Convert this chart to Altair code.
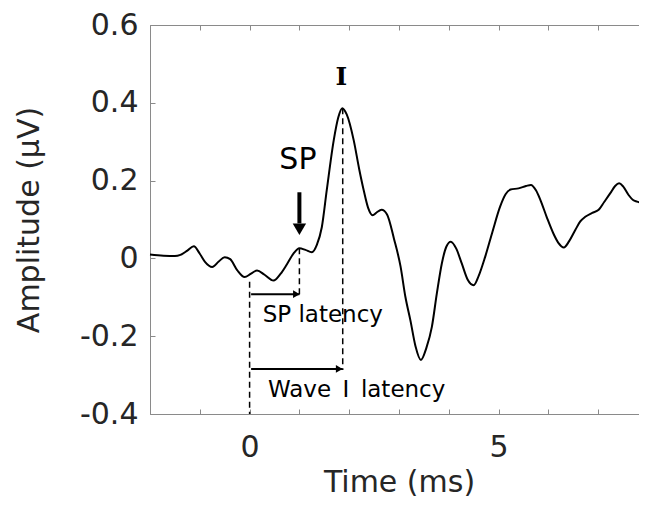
import altair as alt
import pandas as pd

# ---- waveform ----
time_ms = [-2.0, -1.73, -1.5, -1.39, -1.25, -1.12, -1.0, -0.9, -0.75, -0.62, -0.5, -0.39,
           -0.25, -0.1, 0.02, 0.15, 0.3, 0.48, 0.62, 0.75, 0.88, 1.0, 1.12, 1.25, 1.35,
           1.45, 1.55, 1.69, 1.78, 1.86, 1.95, 2.09, 2.2, 2.29, 2.38, 2.47, 2.55, 2.65,
           2.76, 2.9, 3.03, 3.13, 3.23, 3.33, 3.44, 3.55, 3.66, 3.76, 3.86, 3.95, 4.04,
           4.15, 4.26, 4.38, 4.5, 4.6, 4.73, 4.88, 5.03, 5.14, 5.24, 5.4, 5.55, 5.65,
           5.75, 5.84, 5.97, 6.1, 6.2, 6.31, 6.42, 6.54, 6.64, 6.74, 6.88, 7.01, 7.12,
           7.24, 7.34, 7.42, 7.5, 7.61, 7.7, 7.78, 7.9, 8.0]
amplitude = [0.010, 0.007, 0.006, 0.009, 0.020, 0.031, 0.012, -0.008, -0.022, -0.008, 0.003, -0.002,
             -0.030, -0.048, -0.040, -0.031, -0.042, -0.057, -0.040, -0.015, 0.012, 0.026, 0.022, 0.016, 0.035,
             0.080, 0.176, 0.304, 0.362, 0.386, 0.370, 0.304, 0.230, 0.176, 0.130, 0.111, 0.118, 0.125,
             0.113, 0.050, -0.020, -0.100, -0.160, -0.225, -0.261, -0.230, -0.176, -0.090, -0.013, 0.030, 0.043,
             0.025, -0.013, -0.055, -0.069, -0.045, 0.004, 0.070, 0.133, 0.165, 0.177, 0.180, 0.186, 0.189,
             0.175, 0.150, 0.105, 0.064, 0.040, 0.028, 0.045, 0.073, 0.095, 0.107, 0.117, 0.125, 0.145,
             0.167, 0.186, 0.193, 0.185, 0.163, 0.150, 0.146, 0.141, 0.136]

# ---- axes ----
x_domain = [-2, 8]
y_domain = [-0.4, 0.6]
x_ticks = [-2, -1, 0, 1, 2, 3, 4, 5, 6, 7, 8]
x_label_values = [0, 5]
y_ticks = [-0.4, -0.2, 0, 0.2, 0.4, 0.6]

# ---- annotations ----
dash_x = [0.0, 1.0, 1.87]
dash_top = [-0.06, 0.026, 0.386]
dash_bottom = [-0.4, -0.094, -0.287]

arrow_start = [0.03, 0.03]
arrow_end = [1.0, 1.86]
arrow_y = [-0.092, -0.284]

latency_text = ["SP latency", "Wave\u2002Ⅰ\u2002latency"]
latency_x = [1.47, 2.15]
latency_y = [-0.146, -0.339]

sp_text = ["SP"]
sp_x = [0.97]
sp_y = [0.253]

peak_text = ["Ⅰ"]
peak_x = [1.84]
peak_y = [0.467]

sp_arrow_x = [1.0]
sp_arrow_top = [0.17]
sp_arrow_bottom = [0.09]
sp_arrow_head_y = [0.075]

# full plot span (x from -2 to 8) runs past the right edge of the window, as in the reference
SPAN_W, W, H = 498, 489, 389
FONT = "DejaVu Sans"
TXT = "#262626"
GRAY = "#8a8a8a"

wave = pd.DataFrame({"t": time_ms, "a": amplitude})
dashes = pd.DataFrame({"t": dash_x, "top": dash_top, "bot": dash_bottom})
arrows = pd.DataFrame({"t0": arrow_start, "t1": arrow_end, "a": arrow_y})
lat_df = pd.DataFrame({"t": latency_x, "a": latency_y, "s": latency_text})
sp_df = pd.DataFrame({"t": sp_x, "a": sp_y, "s": sp_text})
peak_df = pd.DataFrame({"t": peak_x, "a": peak_y, "s": peak_text})
sp_arrow = pd.DataFrame({"t": sp_arrow_x, "top": sp_arrow_top, "bot": sp_arrow_bottom, "head": sp_arrow_head_y})

xs = alt.Scale(domain=x_domain, nice=False, zero=False, range=[0, SPAN_W])
ys = alt.Scale(domain=y_domain, nice=False, zero=False)

main_x = alt.Axis(values=x_label_values, title="Time (ms)", ticks=False, tickSize=0, domain=True,
                  domainColor=GRAY, domainWidth=1, grid=False,
                  labelFont=FONT, labelFontSize=30, labelColor=TXT, labelPadding=18,
                  titleFont=FONT, titleFontSize=30, titleColor=TXT, titleFontWeight="normal", titlePadding=5)
main_y = alt.Axis(values=y_ticks, title="Amplitude (μV)", ticks=False, tickSize=0, domain=True,
                  domainColor=GRAY, domainWidth=1, grid=False,
                  labelFont=FONT, labelFontSize=30, labelColor=TXT, labelPadding=12,
                  labelExpr="datum.value == 0 ? '0' : replace(format(datum.value, '.1f'), '−', '-')",
                  titleFont=FONT, titleFontSize=30, titleColor=TXT, titleFontWeight="normal", titlePadding=35)


def tick_axis(orient, offset, values, domain=False):
    return alt.Axis(orient=orient, offset=offset, values=values, labels=False, domain=domain,
                    domainColor=GRAY, domainWidth=1, grid=False,
                    ticks=True, tickSize=5, tickColor=GRAY, tickWidth=1, title=None)


curve = alt.Chart(wave).mark_line(color="black", strokeWidth=2, interpolate="monotone").encode(
    x=alt.X("t:Q", scale=xs, axis=main_x),
    y=alt.Y("a:Q", scale=ys, axis=main_y),
)

dash_layer = alt.Chart(dashes).mark_rule(color="black", strokeWidth=1.5, strokeDash=[6, 4]).encode(
    x=alt.X("t:Q", scale=xs, axis=tick_axis("top", -H, x_ticks)),
    y=alt.Y("top:Q", scale=ys, axis=tick_axis("right", -W, y_ticks)),
    y2="bot:Q",
)

arrow_shaft = alt.Chart(arrows).mark_rule(color="black", strokeWidth=2).encode(
    x=alt.X("t0:Q", scale=xs, axis=tick_axis("bottom", -H, x_ticks, domain=True)),
    x2="t1:Q",
    y=alt.Y("a:Q", scale=ys, axis=tick_axis("left", -SPAN_W, y_ticks)),
)

arrow_head = alt.Chart(arrows).mark_point(shape="triangle-right", filled=True, color="black",
                                          size=60, opacity=1, xOffset=-3).encode(
    x=alt.X("t1:Q", scale=xs, axis=None),
    y=alt.Y("a:Q", scale=ys, axis=None),
)

lat_text = alt.Chart(lat_df).mark_text(font=FONT, fontSize=23, color="black", align="center",
                                       baseline="middle").encode(
    x=alt.X("t:Q", scale=xs, axis=None),
    y=alt.Y("a:Q", scale=ys, axis=None),
    text="s:N",
)

sp_label = alt.Chart(sp_df).mark_text(font=FONT, fontSize=30, color="black", align="center",
                                      baseline="middle").encode(
    x=alt.X("t:Q", scale=xs, axis=None),
    y=alt.Y("a:Q", scale=ys, axis=None),
    text="s:N",
)

peak_label = alt.Chart(peak_df).mark_text(font="DejaVu Serif", fontSize=25, fontWeight="bold", color="black",
                                          align="center", baseline="middle").encode(
    x=alt.X("t:Q", scale=xs, axis=None),
    y=alt.Y("a:Q", scale=ys, axis=None),
    text="s:N",
)

sp_shaft = alt.Chart(sp_arrow).mark_rule(color="black", strokeWidth=4).encode(
    x=alt.X("t:Q", scale=xs, axis=None),
    y=alt.Y("top:Q", scale=ys, axis=None),
    y2="bot:Q",
)

sp_head = alt.Chart(sp_arrow).mark_point(shape="triangle-down", filled=True, color="black",
                                         size=180, opacity=1).encode(
    x=alt.X("t:Q", scale=xs, axis=None),
    y=alt.Y("head:Q", scale=ys, axis=None),
)

chart = alt.layer(
    curve, dash_layer, arrow_shaft, arrow_head, lat_text, sp_label, peak_label, sp_shaft, sp_head
).resolve_axis(x="independent", y="independent").properties(
    width=W, height=H,
    autosize=alt.AutoSizeParams(type="none"),
    padding={"left": 142, "top": 17, "right": 0, "bottom": 88},
).configure_view(stroke=None).configure(background="white")

chart.save("out.html", embed_options={"renderer": "svg", "actions": False})
